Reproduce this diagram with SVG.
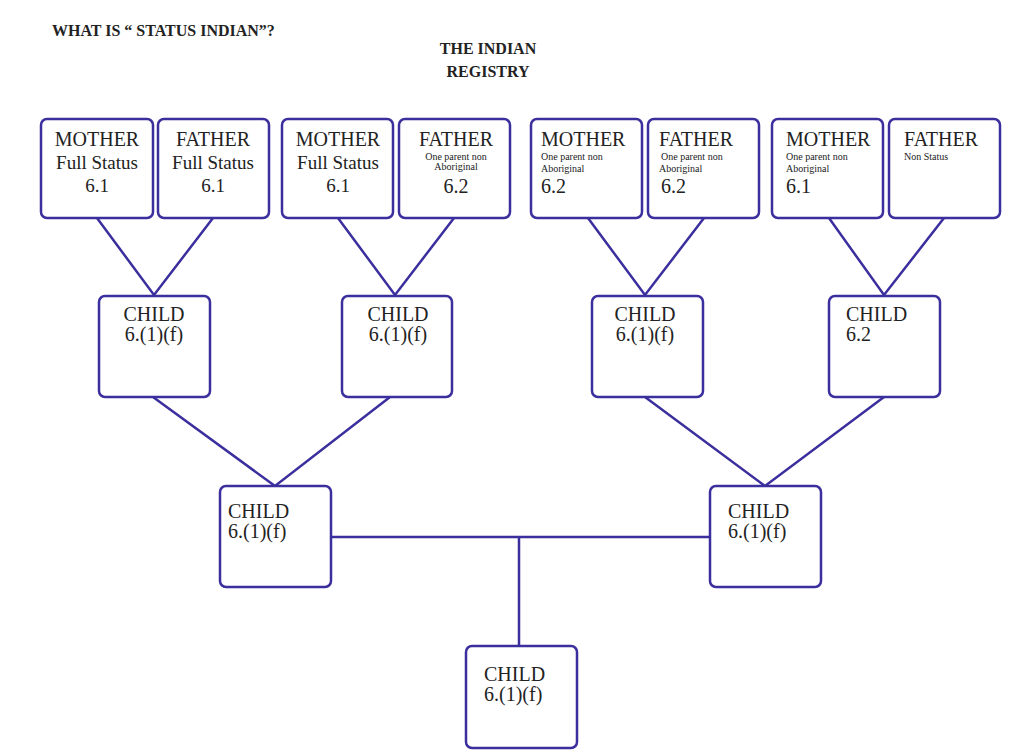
<svg xmlns="http://www.w3.org/2000/svg" width="1020" height="753" viewBox="0 0 1020 753">
<style>
.box{fill:#fff;stroke:#3b2f9e;stroke-width:2.5}
.ln{stroke:#3b2f9e;stroke-width:2.5;fill:none}
text{font-family:"Liberation Serif","Times New Roman",serif;fill:#222}
.big{font-size:20px}
.mid{font-size:19px}
.tiny{font-size:10px}
.c{text-anchor:middle}
.title{font-size:16px;font-weight:bold}
</style>
<rect width="1020" height="753" fill="#fff"/>
<text class="title" x="52" y="36">WHAT IS “ STATUS INDIAN”?</text>
<text class="title c" x="488" y="54">THE INDIAN</text>
<text class="title c" x="488" y="77">REGISTRY</text>
<g id="connectors">
<path class="ln" d="M97 218 L154 295 L213 218"/>
<path class="ln" d="M338 218 L395 295 L454 218"/>
<path class="ln" d="M588 218 L645 295 L704 218"/>
<path class="ln" d="M829 218 L884 295 L944 218"/>
<path class="ln" d="M153 397 L275 486 L390 397"/>
<path class="ln" d="M645 397 L765 486 L884 397"/>
<path class="ln" d="M331 537 L710 537 M519 537 L519 646"/>
</g>
<g id="m1"><rect class="box" x="41" y="119" width="112" height="99" rx="6"/>
<text class="big c" x="97" y="146">MOTHER</text><text class="mid c" x="97" y="169">Full Status</text><text class="mid c" x="97" y="192">6.1</text></g>
<g id="f1"><rect class="box" x="158" y="119" width="111" height="99" rx="6"/>
<text class="big c" x="213" y="146">FATHER</text><text class="mid c" x="213" y="169">Full Status</text><text class="mid c" x="213" y="192">6.1</text></g>
<g id="m2"><rect class="box" x="282" y="119" width="111" height="99" rx="6"/>
<text class="big c" x="338" y="146">MOTHER</text><text class="mid c" x="338" y="169">Full Status</text><text class="mid c" x="338" y="192">6.1</text></g>
<g id="f2"><rect class="box" x="399" y="119" width="111" height="99" rx="6"/>
<text class="big c" x="456" y="146">FATHER</text><text class="tiny c" x="456" y="160">One parent non</text><text class="tiny c" x="456" y="170">Aboriginal</text><text class="big c" x="456" y="193">6.2</text></g>
<g id="m3"><rect class="box" x="531" y="119" width="111" height="99" rx="6"/>
<text class="big" x="541" y="146">MOTHER</text><text class="tiny" x="541" y="160">One parent non</text><text class="tiny" x="541" y="172">Aboriginal</text><text class="big" x="541" y="193">6.2</text></g>
<g id="f3"><rect class="box" x="648" y="119" width="111" height="99" rx="6"/>
<text class="big" x="659" y="146">FATHER</text><text class="tiny" x="661" y="160">One parent non</text><text class="tiny" x="659" y="172">Aboriginal</text><text class="big" x="661" y="193">6.2</text></g>
<g id="m4"><rect class="box" x="772" y="119" width="111" height="99" rx="6"/>
<text class="big" x="786" y="146">MOTHER</text><text class="tiny" x="786" y="160">One parent non</text><text class="tiny" x="786" y="172">Aboriginal</text><text class="big" x="786" y="193">6.1</text></g>
<g id="f4"><rect class="box" x="889" y="119" width="111" height="99" rx="6"/>
<text class="big" x="904" y="146">FATHER</text><text class="tiny" x="904" y="160">Non Status</text></g>
<g id="c1"><rect class="box" x="99" y="296" width="111" height="101" rx="6"/>
<text class="big c" x="154" y="321">CHILD</text><text class="big c" x="154" y="341">6.(1)(f)</text></g>
<g id="c2"><rect class="box" x="342" y="296" width="110" height="101" rx="6"/>
<text class="big c" x="398" y="321">CHILD</text><text class="big c" x="398" y="341">6.(1)(f)</text></g>
<g id="c3"><rect class="box" x="592" y="296" width="111" height="101" rx="6"/>
<text class="big c" x="645" y="321">CHILD</text><text class="big c" x="645" y="341">6.(1)(f)</text></g>
<g id="c4"><rect class="box" x="829" y="296" width="111" height="101" rx="6"/>
<text class="big" x="846" y="321">CHILD</text><text class="big" x="846" y="341">6.2</text></g>
<g id="g1"><rect class="box" x="220" y="486" width="111" height="101" rx="6"/>
<text class="big" x="228" y="518">CHILD</text><text class="big" x="228" y="538">6.(1)(f)</text></g>
<g id="g2"><rect class="box" x="710" y="486" width="111" height="101" rx="6"/>
<text class="big" x="728" y="518">CHILD</text><text class="big" x="728" y="538">6.(1)(f)</text></g>
<g id="gg"><rect class="box" x="466" y="646" width="111" height="102" rx="6"/>
<text class="big" x="484" y="681">CHILD</text><text class="big" x="484" y="701">6.(1)(f)</text></g>
</svg>
